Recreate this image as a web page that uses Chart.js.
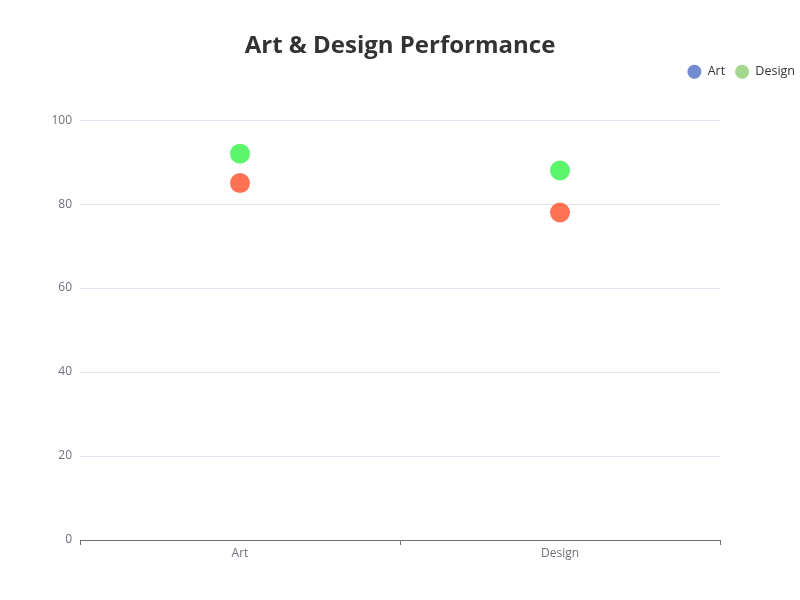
<!DOCTYPE html>
<html>
<head>
<meta charset="utf-8">
<script src="https://cdn.jsdelivr.net/npm/chart.js@4/dist/chart.umd.min.js"></script>
<style>
html,body{margin:0;padding:0;background:#fff;}
#wrap{width:800px;height:600px;position:relative;}
</style>
</head>
<body>
<div id="wrap"><canvas id="c" width="800" height="600"></canvas></div>
<script>
const categories = ["Art", "Design"];
const seriesNames = ["Art", "Design"];
const artValues = [85, 78];
const designValues = [92, 88];
const yTicks = [0, 20, 40, 60, 80, 100];
const titleText = "Art & Design Performance";

const pointColors = ["#fe7153", "#5cf56c"];
const legendColors = ["#738bd0", "#a5d68f"];
const FONT = "'Open Sans', 'Noto Sans', sans-serif";

const ctx = document.getElementById('c').getContext('2d');
new Chart(ctx, {
  type: 'line',
  data: {
    labels: categories,
    datasets: [
      {label: seriesNames[0], data: artValues, showLine: false,
       pointRadius: 10, pointHoverRadius: 10, pointBackgroundColor: pointColors[0], pointBorderWidth: 0,
       backgroundColor: legendColors[0], borderColor: legendColors[0]},
      {label: seriesNames[1], data: designValues, showLine: false,
       pointRadius: 10, pointHoverRadius: 10, pointBackgroundColor: pointColors[1], pointBorderWidth: 0,
       backgroundColor: legendColors[1], borderColor: legendColors[1]}
    ]
  },
  options: {
    responsive: false,
    animation: false,
    layout: {padding: {left: -5, right: -5, top: 0, bottom: 0}},
    plugins: {
      title: {display: true, text: titleText, color: '#333',
        font: {family: FONT, size: 24, weight: 'bold', lineHeight: 0.8}, padding: {top: 36.4, bottom: 0}},
      subtitle: {display: true, text: '', weight: 500, position: 'top',
        font: {size: 10, lineHeight: 1}, padding: {top: 0, bottom: 22}},
      legend: {display: true, position: 'top', align: 'end',
        labels: {usePointStyle: true, pointStyle: 'circle', boxWidth: 14, boxHeight: 10, pointStyleWidth: 14,
          color: '#333', font: {family: FONT, size: 12.5}, padding: 10,
          generateLabels: (chart) => chart.data.datasets.map((d, i) => ({
            text: d.label, fillStyle: legendColors[i], strokeStyle: legendColors[i],
            lineWidth: 0, pointStyle: 'circle', datasetIndex: i, hidden: false, fontColor: '#333'
          }))
        }},
      tooltip: {enabled: false}
    },
    scales: {
      x: {
        offset: true,
        grid: {display: true, drawOnChartArea: false, drawTicks: true, tickLength: 5, color: '#6e7079', offset: true},
        border: {display: true, color: '#6e7079'},
        ticks: {color: '#6e7079', font: {family: FONT, size: 12}, padding: 1},
        afterFit: (s) => { s.height = 60; }
      },
      y: {
        min: 0, max: 100,
        afterBuildTicks: (s) => { s.ticks = yTicks.map(v => ({value: v})); },
        grid: {color: '#e0e6f1', drawTicks: false},
        border: {display: false},
        ticks: {color: '#6e7079', font: {family: FONT, size: 12}, padding: 8},
        afterFit: (s) => { s.width = 85; }
      },
      yRight: {
        position: 'right', display: true, min: 0, max: 100,
        grid: {display: false, drawOnChartArea: false, drawTicks: false},
        border: {display: false},
        ticks: {display: false},
        afterFit: (s) => { s.width = 85; }
      }
    }
  }
});
</script>
</body>
</html>
